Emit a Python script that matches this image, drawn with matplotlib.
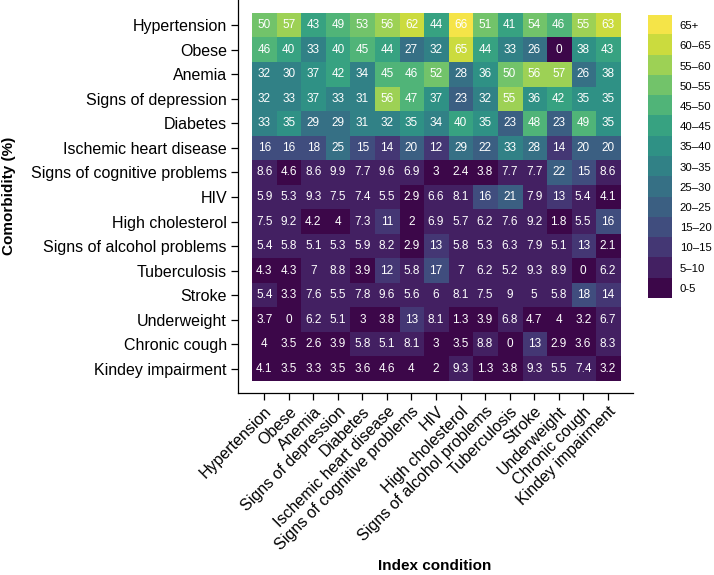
import numpy as np
import matplotlib
matplotlib.use("Agg")
import matplotlib.pyplot as plt
from matplotlib.colors import ListedColormap, BoundaryNorm

plt.rcParams['font.family'] = ['Liberation Sans', 'DejaVu Sans']

conditions = ["Hypertension", "Obese", "Anemia", "Signs of depression", "Diabetes",
              "Ischemic heart disease", "Signs of cognitive problems", "HIV",
              "High cholesterol", "Signs of alcohol problems", "Tuberculosis",
              "Stroke", "Underweight", "Chronic cough", "Kindey impairment"]

# rows: comorbidity, columns: index condition
hypertension = [50, 57, 43, 49, 53, 56, 62, 44, 66, 51, 41, 54, 46, 55, 63]
obese        = [46, 40, 33, 40, 45, 44, 27, 32, 64.6, 44, 33, 26, 0, 38, 43]
anemia       = [32, 30, 37, 42, 34, 45, 46, 52, 28, 36, 50, 56, 57, 26, 38]
depression   = [32, 33, 37, 33, 31, 56, 47, 37, 23, 32, 55, 36, 42, 35, 35]
diabetes     = [33, 35, 29, 29, 31, 32, 35, 34, 40, 35, 23, 48, 23, 49, 35]
ischemic     = [16, 16, 18, 25, 15, 14, 20, 12, 29, 22, 33, 28, 14, 20, 20]
cognitive    = [8.6, 4.6, 8.6, 9.9, 7.7, 9.6, 6.9, 3, 2.4, 3.8, 7.7, 7.7, 22, 15, 8.6]
hiv          = [5.9, 5.3, 9.3, 7.5, 7.4, 5.5, 2.9, 6.6, 8.1, 16, 21, 7.9, 13, 5.4, 4.1]
cholesterol  = [7.5, 9.2, 4.2, 4, 7.3, 11, 2, 6.9, 5.7, 6.2, 7.6, 9.2, 1.8, 5.5, 16]
alcohol      = [5.4, 5.8, 5.1, 5.3, 5.9, 8.2, 2.9, 13, 5.8, 5.3, 6.3, 7.9, 5.1, 13, 2.1]
tuberculosis = [4.3, 4.3, 7, 8.8, 3.9, 12, 5.8, 17, 7, 6.2, 5.2, 9.3, 8.9, 0, 6.2]
stroke       = [5.4, 3.3, 7.6, 5.5, 7.8, 9.6, 5.6, 6, 8.1, 7.5, 9, 5, 5.8, 18, 14]
underweight  = [3.7, 0, 6.2, 5.1, 3, 3.8, 13, 8.1, 1.3, 3.9, 6.8, 4.7, 4, 3.2, 6.7]
cough        = [4, 3.5, 2.6, 3.9, 5.8, 5.1, 8.1, 3, 3.5, 8.8, 0, 13, 2.9, 3.6, 8.3]
kidney       = [4.1, 3.5, 3.3, 3.5, 3.6, 4.6, 4, 2, 9.3, 1.3, 3.8, 9.3, 5.5, 7.4, 3.2]

bin_labels = ["0-5", "5\u201310", "10\u201315", "15\u201320", "20\u201325", "25\u201330",
              "30\u201335", "35\u201340", "40\u201345", "45\u201350", "50\u201355",
              "55\u201360", "60\u201365", "65+"]

data = np.array([hypertension, obese, anemia, depression, diabetes, ischemic,
                 cognitive, hiv, cholesterol, alcohol, tuberculosis, stroke,
                 underweight, cough, kidney], dtype=float)

n = len(conditions)
nb = len(bin_labels)
colors = plt.cm.viridis(np.linspace(0, 1, nb))
lum = (0.3 * colors[:, 0] + 0.59 * colors[:, 1] + 0.11 * colors[:, 2])[:, None]
colors[:, :3] = colors[:, :3] * 0.8 + lum * 0.2
cmap = ListedColormap(colors)
bounds = list(np.arange(0, 70, 5)) + [1000]
norm = BoundaryNorm(bounds, cmap.N)

fig = plt.figure(figsize=(7.14, 5.75), dpi=100)
ax = fig.add_axes([238/714, 1-393/575, (633-238)/714, 393/575])

ax.imshow(data, cmap=cmap, norm=norm, aspect='auto',
          extent=(-0.5, n-0.5, n-0.5, -0.5), interpolation='nearest')
ax.set_xlim(-1.07, n-0.5+0.53)
ax.set_ylim(n-0.5+0.49, -0.5-0.53)

for i in range(n):
    for j in range(n):
        v = data[i, j]
        ax.text(j, i, '{:.2g}'.format(v), ha='center', va='center',
                color='white', fontsize=8.5)

ax.set_xticks(range(n))
ax.set_xticklabels(conditions, rotation=45, ha='right', va='top',
                   rotation_mode='anchor', fontsize=11.5)
ax.set_yticks(range(n))
ax.set_yticklabels(conditions, fontsize=11.5)
ax.tick_params(length=5, width=0.9, color='black', pad=3)
for s in ['top', 'right']:
    ax.spines[s].set_visible(False)
for s in ['left', 'bottom']:
    ax.spines[s].set_linewidth(0.9)

fig.text(435/714, 1-566/575, "Index condition", ha='center', va='center',
         fontsize=11, fontweight='bold')
fig.text(9/714, 1-196/575, "Comorbidity (%)", ha='center', va='center',
         rotation=90, fontsize=11, fontweight='bold')

# legend keys
lax = fig.add_axes([648/714, 1-298/575, 24/714, 283/575])
lax.imshow(np.arange(nb)[::-1].reshape(-1, 1), cmap=cmap,
           norm=BoundaryNorm(np.arange(-0.5, nb), cmap.N), aspect='auto',
           extent=(0, 1, nb, 0))
lax.set_xlim(0, 1)
lax.set_ylim(nb, 0)
lax.set_xticks([])
lax.set_yticks(np.arange(nb) + 0.5)
lax.set_yticklabels(bin_labels[::-1], fontsize=8.2)
lax.yaxis.tick_right()
lax.tick_params(length=0, pad=5.5)
for s in lax.spines.values():
    s.set_visible(False)

fig.savefig("out.png", dpi=100)
